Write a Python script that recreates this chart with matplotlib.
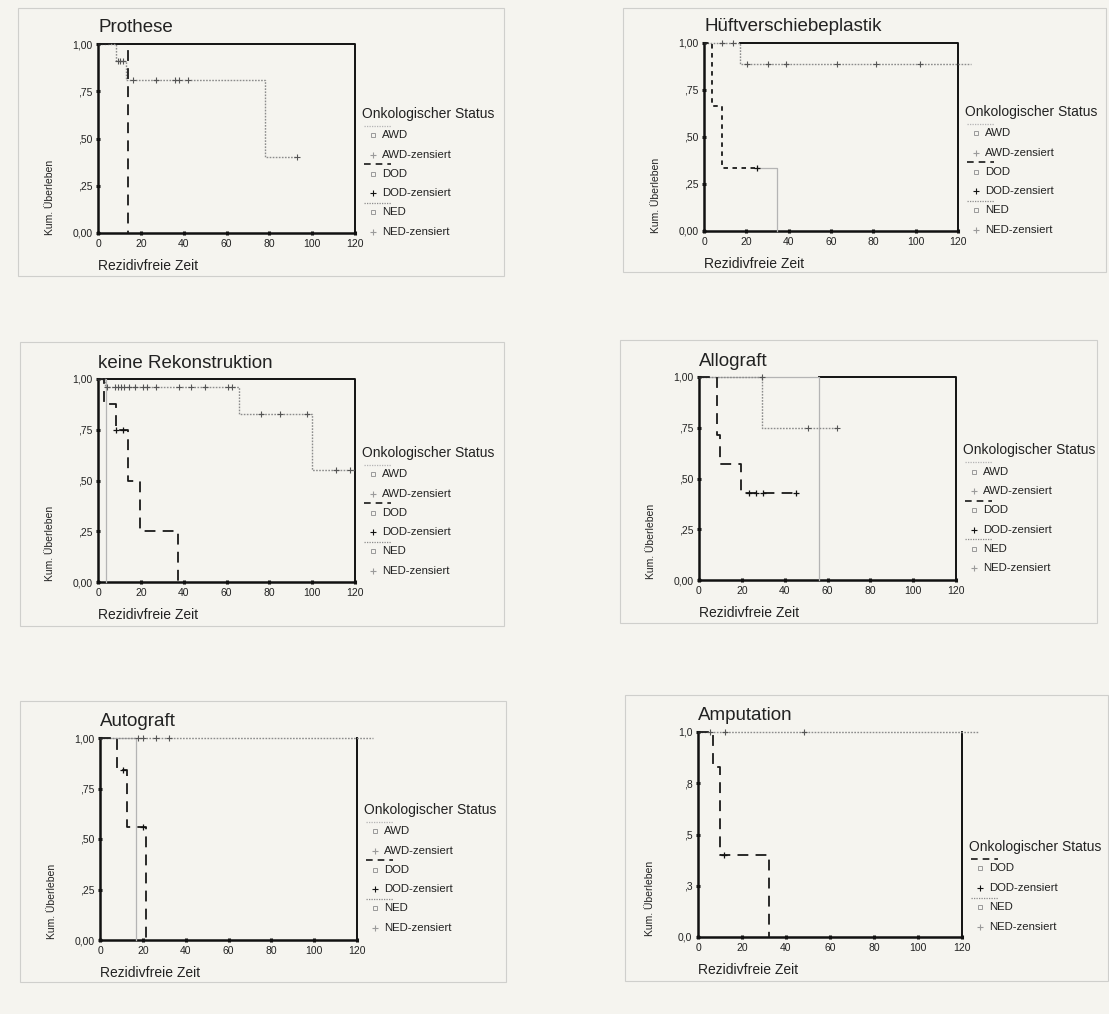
import numpy as np
import matplotlib.pyplot as plt
from matplotlib.lines import Line2D
from matplotlib.patches import Rectangle

W, H = 1109, 1014
BG = '#f5f4ef'

x_ticks = [0, 20, 40, 60, 80, 100, 120]
y_ticks = [0.0, 0.25, 0.5, 0.75, 1.0]
y_ticklabels = ['0,00', ',25', ',50', ',75', '1,00']
y_ticklabels_amp = ['0,0', ',3', ',5', ',8', '1,0']

# Prothese
prothese_ned_t = [0, 8.4, 12.9, 78.1, 93.1]
prothese_ned_s = [1.0, 0.91, 0.81, 0.40, 0.40]
prothese_ned_cens = [9.2, 10.5, 11.7, 16.2, 26.9, 35.9, 37.6, 42.1, 93.1]
prothese_dod_t = [0, 14.0]
prothese_dod_s = [1.0, 0.0]
prothese_dod_cens = []
prothese_black = 0

# Hueftverschiebeplastik
hueft_ned_t = [0, 17.0, 126.0]
hueft_ned_s = [1.0, 0.89, 0.89]
hueft_ned_cens = [8.7, 13.7, 20.1, 30.0, 38.7, 62.6, 81.3, 102.2]
hueft_dod_t = [0, 4.0, 8.7, 25.2]
hueft_dod_s = [1.0, 0.667, 0.333, 0.333]
hueft_dod_cens = [25.2]
hueft_awd_t = [25.2, 34.3]
hueft_awd_s = [0.333, 0.0]
hueft_black = 17.0

# keine Rekonstruktion
keine_ned_t = [0, 3.3, 66.0, 99.9, 120.0]
keine_ned_s = [1.0, 0.96, 0.83, 0.553, 0.553]
keine_ned_cens = [4.2, 7.9, 9.5, 10.9, 12.2, 14.7, 17.5, 20.9, 23.1, 26.9,
                  37.9, 43.4, 50.1, 60.7, 62.4, 76.0, 85.2, 97.4, 111.0, 117.5]
keine_dod_t = [0, 2.8, 8.2, 14.2, 19.8, 37.5]
keine_dod_s = [1.0, 0.875, 0.75, 0.5, 0.25, 0.0]
keine_dod_cens = [8.6, 11.7]
keine_awd_t = [0, 3.6]
keine_awd_s = [1.0, 0.0]
keine_black = 3.0

# Allograft
allo_ned_t = [0, 29.5, 64.3]
allo_ned_s = [1.0, 0.75, 0.75]
allo_ned_cens = [29.3, 51.1, 64.3]
allo_dod_t = [0, 8.5, 9.8, 19.5, 45.4]
allo_dod_s = [1.0, 0.714, 0.571, 0.429, 0.429]
allo_dod_cens = [23.5, 26.5, 29.8, 45.4]
allo_awd_t = [0, 56.2]
allo_awd_s = [1.0, 0.0]
allo_black = 56.2

# Autograft
auto_ned_t = [0, 127.5]
auto_ned_s = [1.0, 1.0]
auto_ned_cens = [17.8, 20.0, 26.0, 32.0]
auto_dod_t = [0, 7.8, 12.8, 21.3]
auto_dod_s = [1.0, 0.84, 0.557, 0.0]
auto_dod_cens = [10.8, 20.0]
auto_awd_t = [0, 17.0]
auto_awd_s = [1.0, 0.0]
auto_black = 120

# Amputation
amp_ned_t = [0, 127.5]
amp_ned_s = [1.0, 1.0]
amp_ned_cens = [5.6, 12.3, 48.1]
amp_dod_t = [0, 7.0, 9.8, 32.2]
amp_dod_s = [1.0, 0.83, 0.40, 0.0]
amp_dod_cens = [12.0]
amp_black = 120

panels = [
    dict(title='Prothese', ned=(prothese_ned_t, prothese_ned_s, prothese_ned_cens),
         dod=(prothese_dod_t, prothese_dod_s, prothese_dod_cens), awd=None,
         black=prothese_black, groups=['AWD', 'DOD', 'NED'], ylab=y_ticklabels),
    dict(title='Hüftverschiebeplastik', ned=(hueft_ned_t, hueft_ned_s, hueft_ned_cens),
         dod=(hueft_dod_t, hueft_dod_s, hueft_dod_cens), awd=(hueft_awd_t, hueft_awd_s),
         black=hueft_black, groups=['AWD', 'DOD', 'NED'], ylab=y_ticklabels),
    dict(title='keine Rekonstruktion', ned=(keine_ned_t, keine_ned_s, keine_ned_cens),
         dod=(keine_dod_t, keine_dod_s, keine_dod_cens), awd=(keine_awd_t, keine_awd_s),
         black=keine_black, groups=['AWD', 'DOD', 'NED'], ylab=y_ticklabels),
    dict(title='Allograft', ned=(allo_ned_t, allo_ned_s, allo_ned_cens),
         dod=(allo_dod_t, allo_dod_s, allo_dod_cens), awd=(allo_awd_t, allo_awd_s),
         black=allo_black, groups=['AWD', 'DOD', 'NED'], ylab=y_ticklabels),
    dict(title='Autograft', ned=(auto_ned_t, auto_ned_s, auto_ned_cens),
         dod=(auto_dod_t, auto_dod_s, auto_dod_cens), awd=(auto_awd_t, auto_awd_s),
         black=auto_black, groups=['AWD', 'DOD', 'NED'], ylab=y_ticklabels),
    dict(title='Amputation', ned=(amp_ned_t, amp_ned_s, amp_ned_cens),
         dod=(amp_dod_t, amp_dod_s, amp_dod_cens), awd=None,
         black=amp_black, groups=['DOD', 'NED'], ylab=y_ticklabels_amp),
]

# layout in pixels: axes box, outer frame, legend title position (fraction from top)
layout = [
    dict(ax=(98, 44, 355, 233), frame=(18, 8, 504, 276), leg=0.37),
    dict(ax=(704, 43, 958, 231), frame=(623, 8, 1106, 272), leg=0.367),
    dict(ax=(98, 379, 355, 582), frame=(20, 342, 504, 626), leg=0.364),
    dict(ax=(699, 377, 956, 580), frame=(620, 340, 1097, 623), leg=0.36),
    dict(ax=(100, 738, 357, 940), frame=(20, 701, 506, 982), leg=0.356),
    dict(ax=(698, 732, 962, 937), frame=(625, 695, 1108, 981), leg=0.56),
]

NED_C = '#8c8c8c'
AWD_C = '#b4b4b4'
DOD_C = '#1a1a1a'

plt.rcParams['font.family'] = ['Liberation Sans', 'DejaVu Sans']

fig = plt.figure(figsize=(W / 100, H / 100), dpi=100, facecolor=BG)


def fx(x):
    return x / W


def fy(y):
    return 1 - y / H


def level_at(t, s, c):
    i = np.searchsorted(t, c, side='right') - 1
    return s[max(i, 0)]


for i, (p, lay) in enumerate(zip(panels, layout)):
    x0, y0, x1, y1 = lay['frame']
    fig.add_artist(Rectangle((fx(x0), fy(y1)), fx(x1 - x0), (y1 - y0) / H,
                             transform=fig.transFigure, fill=False,
                             edgecolor='#cfcfcc', lw=0.8))
    a0, b0, a1, b1 = lay['ax']
    ax = fig.add_axes([fx(a0), fy(b1), fx(a1 - a0), (b1 - b0) / H])
    ax.set_facecolor(BG)
    ax.set_xlim(0, 120)
    ax.set_ylim(0, 1)

    # black line along top / right
    b = p['black']
    ax.plot([b, 120, 120], [1, 1, 0], color='#111111', lw=1.4, zorder=2, clip_on=False)

    if p['awd'] is not None:
        t, s = p['awd']
        ax.step(t, s, where='post', color=AWD_C, lw=0.9, zorder=3, clip_on=False)

    t, s, cens = p['ned']
    ax.step(t, s, where='post', color=NED_C, lw=1.0, ls=(0, (1.2, 1.0)), zorder=4, clip_on=False)
    ax.plot(cens, [level_at(t, s, c) for c in cens], '+', color='#555555', ms=4,
            mew=0.8, zorder=5, clip_on=False)

    t, s, cens = p['dod']
    dash = (0, (2.5, 2.5)) if i == 1 else (0, (6, 4))
    ax.step(t, s, where='post', color=DOD_C, lw=1.3, ls=dash, zorder=4, clip_on=False)
    if cens:
        ax.plot(cens, [level_at(t, s, c) for c in cens], '+', color='#111111', ms=4,
                mew=0.9, zorder=5, clip_on=False)

    for side in ['top', 'right']:
        ax.spines[side].set_visible(False)
    for side in ['left', 'bottom']:
        ax.spines[side].set_linewidth(1.8)
        ax.spines[side].set_color('#111111')
    ax.set_xticks(x_ticks)
    ax.set_yticks(y_ticks)
    ax.set_yticklabels(p['ylab'])
    ax.tick_params(direction='inout', length=3, width=2.2, labelsize=7.5, pad=2.5,
                   colors='#111111', labelcolor='#222222')

    ax.text(0, 1 + 16 / (b1 - b0), p['title'], transform=ax.transAxes, fontsize=13.5,
            ha='left', va='center', color='#222222')
    ax.text(0, -33 / (b1 - b0), 'Rezidivfreie Zeit', transform=ax.transAxes,
            fontsize=10, ha='left', va='center', color='#222222')
    ax.text(-48 / (a1 - a0), 0.19, 'Kum. Überleben', transform=ax.transAxes,
            fontsize=7.5, rotation=90, ha='center', va='center', color='#222222')

    # legend
    lx = a1 + 7
    ly = b0 + lay['leg'] * (b1 - b0)
    fig.text(fx(lx), fy(ly), 'Onkologischer Status', fontsize=10, ha='left',
             va='center', color='#222222')
    step = 19.5 if len(p['groups']) == 3 else 20
    yy = ly + 12
    for g in p['groups']:
        if g == 'DOD':
            lc, ls, lw = DOD_C, (0, (4, 3)), 1.2
        elif g == 'AWD':
            lc, ls, lw = AWD_C, (0, (1, 1)), 0.9
        else:
            lc, ls, lw = NED_C, (0, (1, 1)), 0.9
        fig.add_artist(Line2D([fx(lx + 2), fx(lx + 29)], [fy(yy), fy(yy)], color=lc,
                              ls=ls, lw=lw, transform=fig.transFigure))
        y_item = yy + 9.5
        fig.add_artist(Line2D([fx(lx + 11)], [fy(y_item)], marker='s', ms=3, mfc='none',
                              mec='#9a9a9a', mew=0.7, ls='none',
                              transform=fig.transFigure))
        fig.text(fx(lx + 20), fy(y_item), g, fontsize=8.2, ha='left', va='center',
                 color='#222222')
        y_c = y_item + step
        fig.add_artist(Line2D([fx(lx + 11)], [fy(y_c)], marker='+', ms=4,
                              mec='#111111' if g == 'DOD' else '#9a9a9a', mew=0.8,
                              ls='none', transform=fig.transFigure))
        fig.text(fx(lx + 20), fy(y_c), g + '-zensiert', fontsize=8.2, ha='left',
                 va='center', color='#222222')
        yy = y_c + 9.5

fig.savefig('out.png', dpi=100, facecolor=BG)
